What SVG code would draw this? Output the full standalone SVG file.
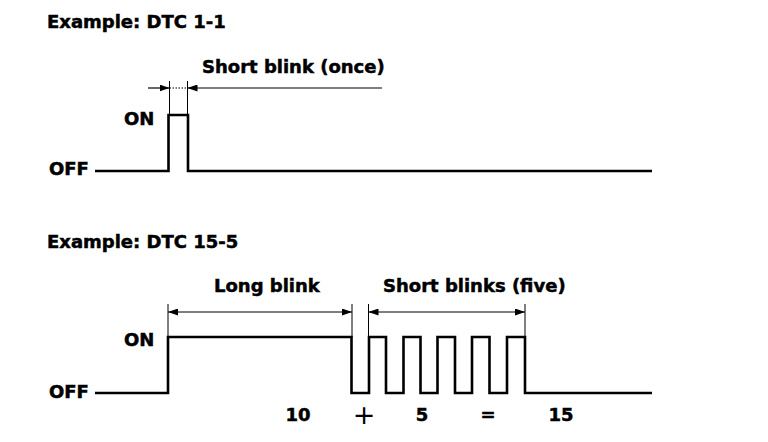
<svg xmlns="http://www.w3.org/2000/svg" width="768" height="442" viewBox="0 0 768 442">
<style>
.t{font-family:"DejaVu Sans",sans-serif;font-weight:bold;font-size:18px;fill:#000;stroke:#000;stroke-width:0.5}
.sig{fill:none;stroke:#000;stroke-width:2.6;stroke-linejoin:miter}
.dim{fill:none;stroke:#000;stroke-width:1.2}
.ext{fill:none;stroke:#000;stroke-width:1}
</style>
<defs>
<marker id="ah" viewBox="0 0 10 7" refX="10" refY="3.5" markerWidth="10" markerHeight="7" markerUnits="userSpaceOnUse" orient="auto-start-reverse">
<path d="M0,0 L10,3.5 L0,7 Z" fill="#000"/>
</marker>
</defs>
<rect width="768" height="442" fill="#fff"/>

<g id="dtc11">
<text class="t" x="47" y="28">Example: DTC 1-1</text>
<text class="t" x="202" y="73">Short blink (once)</text>
<text class="t" x="124" y="125">ON</text>
<text class="t" x="49" y="175">OFF</text>
<path class="sig" d="M95,171 H168.5 V115 H188 V171 H652"/>
</g>

<g id="dtc155">
<text class="t" x="47" y="248">Example: DTC 15-5</text>
<text class="t" x="214" y="292">Long blink</text>
<text class="t" x="383" y="292">Short blinks (five)</text>
<text class="t" x="124" y="346">ON</text>
<text class="t" x="49" y="398">OFF</text>
<path class="sig" d="M95,393 H168 V337 H351.5 V393 H369 V337 H386 V393 H403.5 V337 H420.5 V393 H437.5 V337 H455 V393 H472 V337 H489.5 V393 H507 V337 H525 V393 H652"/>
<text class="t" x="298" y="421" text-anchor="middle">10</text>
<text x="364" y="424" text-anchor="middle" font-family="DejaVu Sans,sans-serif" font-size="27" fill="#000">+</text>
<text class="t" x="422" y="421" text-anchor="middle">5</text>
<text class="t" x="488" y="421" text-anchor="middle">=</text>
<text class="t" x="561" y="421" text-anchor="middle">15</text>
</g>

<g id="connectors">
<line class="ext" x1="169.5" y1="81" x2="169.5" y2="115"/>
<line class="ext" x1="187.5" y1="81" x2="187.5" y2="115"/>
<line class="dim" x1="148" y1="88" x2="169.5" y2="88" marker-end="url(#ah)"/>
<line class="dim" x1="169.5" y1="88" x2="187.5" y2="88" stroke-dasharray="1.5,1.5"/>
<line class="dim" x1="382" y1="88" x2="187.5" y2="88" marker-end="url(#ah)"/>

<line class="ext" x1="168" y1="304" x2="168" y2="337"/>
<line class="ext" x1="352" y1="304" x2="352" y2="337"/>
<line class="ext" x1="368.5" y1="304" x2="368.5" y2="337"/>
<line class="ext" x1="525" y1="304" x2="525" y2="337"/>
<line class="dim" x1="168" y1="312" x2="352" y2="312" marker-start="url(#ah)" marker-end="url(#ah)"/>
<line class="dim" x1="368.5" y1="312" x2="525" y2="312" marker-start="url(#ah)" marker-end="url(#ah)"/>
</g>
</svg>
